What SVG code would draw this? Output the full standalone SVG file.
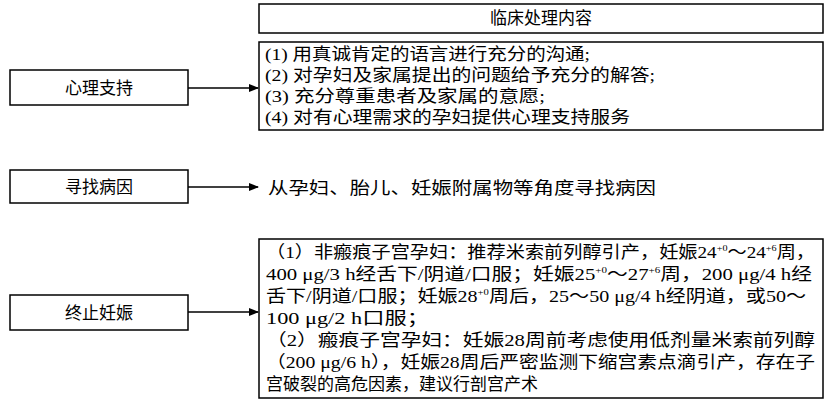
<svg xmlns="http://www.w3.org/2000/svg" width="831" height="402" viewBox="0 0 831 402">
<defs>
<style>
rect{fill:#fff;stroke:#000;stroke-width:1.5}
text{font-family:"Liberation Serif","Noto Sans CJK SC",serif;font-size:17px;fill:#000}
.c{text-anchor:middle}
.s{font-size:9px}
line{stroke:#000;stroke-width:1.3}
</style>
<marker id="a" markerWidth="10" markerHeight="8" refX="9" refY="4" orient="auto" markerUnits="userSpaceOnUse"><path d="M0,0L10,4L0,8z" fill="#000"/></marker>
</defs>
<g id="connectors">
<line x1="188" y1="88" x2="258" y2="88" marker-end="url(#a)"/>
<line x1="188" y1="187" x2="258" y2="187" marker-end="url(#a)"/>
<line x1="188" y1="312" x2="258" y2="312" marker-end="url(#a)"/>
</g>
<g id="header"><rect x="259" y="4" width="564" height="29"/><text class="c" x="541" y="24">临床处理内容</text></g>
<g id="n1"><rect x="10" y="70" width="178" height="35"/><text class="c" x="99" y="94">心理支持</text></g>
<g id="c1"><rect x="259" y="42" width="564" height="88"/>
<text x="265" y="60" textLength="325" lengthAdjust="spacingAndGlyphs">(1) 用真诚肯定的语言进行充分的沟通;</text>
<text x="265" y="81" textLength="390" lengthAdjust="spacingAndGlyphs">(2) 对孕妇及家属提出的问题给予充分的解答;</text>
<text x="265" y="102" textLength="280" lengthAdjust="spacingAndGlyphs">(3) 充分尊重患者及家属的意愿;</text>
<text x="265" y="123" textLength="365" lengthAdjust="spacingAndGlyphs">(4) 对有心理需求的孕妇提供心理支持服务</text>
</g>
<g id="n2"><rect x="10" y="170" width="178" height="33"/><text class="c" x="99" y="193">寻找病因</text></g>
<g id="c2"><text x="268" y="194" textLength="388" lengthAdjust="spacingAndGlyphs">从孕妇、胎儿、妊娠附属物等角度寻找病因</text></g>
<g id="n3"><rect x="10" y="295" width="178" height="35"/><text class="c" x="99" y="319">终止妊娠</text></g>
<g id="c3"><rect x="259" y="239" width="564" height="159"/>
<text x="266" y="258" textLength="549" lengthAdjust="spacingAndGlyphs">（1）非瘢痕子宫孕妇：推荐米索前列醇引产，妊娠24<tspan class="s" dy="-7">+0</tspan><tspan dy="7">～24</tspan><tspan class="s" dy="-7">+6</tspan><tspan dy="7">周，</tspan></text>
<text x="266" y="280" textLength="546" lengthAdjust="spacingAndGlyphs">400 μg/3 h经舌下/阴道/口服；妊娠25<tspan class="s" dy="-7">+0</tspan><tspan dy="7">～27</tspan><tspan class="s" dy="-7">+6</tspan><tspan dy="7">周，200 μg/4 h经</tspan></text>
<text x="266" y="302" textLength="540" lengthAdjust="spacingAndGlyphs">舌下/阴道/口服；妊娠28<tspan class="s" dy="-7">+0</tspan><tspan dy="7">周后，25～50 μg/4 h经阴道，或50～</tspan></text>
<text x="266" y="324" textLength="163" lengthAdjust="spacingAndGlyphs">100 μg/2 h口服；</text>
<text x="266" y="346" textLength="549" lengthAdjust="spacingAndGlyphs">（2）瘢痕子宫孕妇：妊娠28周前考虑使用低剂量米索前列醇</text>
<text x="266" y="368" textLength="549" lengthAdjust="spacingAndGlyphs">（200 μg/6 h），妊娠28周后严密监测下缩宫素点滴引产，存在子</text>
<text x="266" y="390" textLength="272" lengthAdjust="spacingAndGlyphs">宫破裂的高危因素，建议行剖宫产术</text>
</g>
</svg>
